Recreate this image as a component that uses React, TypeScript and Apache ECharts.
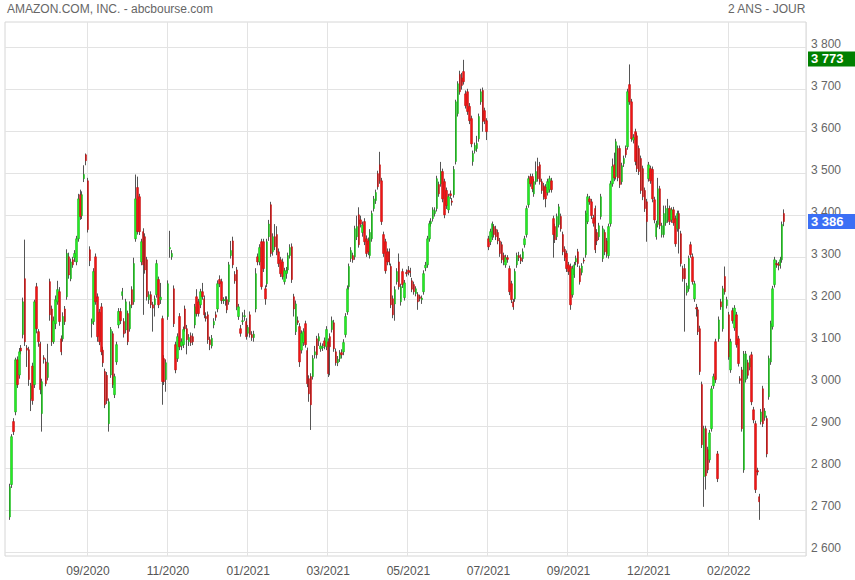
import React, { useEffect, useRef } from "react";
import * as echarts from "echarts";

// ---- data ----
const title = "AMAZON.COM, INC. - abcbourse.com";
const periodLabel = "2 ANS - JOUR";
const tickLabels = ["09/2020", "11/2020", "01/2021", "03/2021", "05/2021", "07/2021", "09/2021", "12/2021", "02/2022"];
const tickIndex = [43, 85, 127, 169, 211, 253, 295, 337, 379];
const priceTicks = [2600, 2700, 2800, 2900, 3000, 3100, 3200, 3300, 3400, 3500, 3600, 3700, 3800];
const highPrice = 3773;
const lastPrice = 3386;
const PAD_START = 2;
const CATEGORY_COUNT = 420;

// [open, close, low, high]
const candlesA = [
  [2683,2755,2676,2762],[2760,2874,2752,2880],[2910,2886,2878,2918],[2933,3057,2925,3062],[3057,2998,2990,3065],
  [3021,3076,3012,3085],[3085,3078,3070,3092],[3117,3195,3108,3205],[3250,3100,3090,3343],[3085,3080,3040,3092],
  [3081,3010,2995,3088],[2964,2995,2935,3002],[3042,2960,2950,3050],[2998,3195,2990,3200],[3231,3131,3120,3240],
  [3124,3100,3088,3130],[3095,2986,2975,3100],[2929,3005,2886,3012],[3062,3058,3048,3068],[3052,3000,2994,3060],
  [3015,3050,3008,3095],[3243,3164,3150,3250],[3178,3100,3090,3186],[3100,3150,3095,3160],[3143,3200,3130,3210],
  [3195,3224,3188,3245],[3219,3148,3138,3230],[3107,3076,3068,3115],[3107,3160,3100,3170],[3178,3148,3140,3185],
  [3207,3310,3200,3320],[3302,3259,3250,3312],[3250,3290,3244,3298],[3295,3283,3276,3302],[3300,3310,3290,3318],
  [3290,3345,3282,3352],[3345,3440,3338,3452],[3450,3398,3390,3462],[3400,3450,3392,3458],[3488,3498,3480,3520],
  [3545,3531,3520,3548],[3483,3367,3360,3490],[3319,3293,3280,3327],[3143,3148,3110,3155],[3148,3267,3140,3275],
  [3302,3195,3188,3310],[3207,3112,3100,3215],[3170,3100,3092,3178],[3183,3076,3068,3192],[3080,3050,3040,3088],
  [3029,2950,2942,3036],[3020,2960,2952,3028],[2905,2957,2886,2965],[3021,3129,3014,3135],[3119,2998,2990,3125],
  [2974,3017,2966,3024],[3052,3093,3045,3100],[3140,3172,3132,3180],[3172,3150,3142,3180],[3210,3219,3200,3228],
  [3148,3119,3110,3156],[3128,3195,3120,3202],[3167,3100,3092,3174],[3131,3188,3124,3196],[3224,3188,3180,3232],
  [3195,3286,3188,3300],
];
const candlesB = [
  [3345,3440,3338,3498],[3467,3362,3355,3493],[3445,3362,3354,3452],[3290,3338,3282,3345],[3362,3283,3164,3370],
  [3350,3271,3262,3358],[3295,3207,3198,3302],[3200,3212,3190,3220],[3212,3188,3180,3220],[3188,3180,3124,3195],
  [3188,3202,3160,3210],[3212,3286,3205,3295],[3248,3188,3180,3255],[3200,3206,3190,3240],[3155,3005,2950,3162],
  [3060,3005,2997,3068],[3010,3050,2981,3058],[3160,3238,3152,3246],[3321,3324,3300,3364],[3302,3310,3295,3318],
  [3226,3143,3135,3234],[3093,3033,3025,3100],[3060,3112,3052,3120],[3160,3088,3080,3168],[3090,3100,3080,3108],
  [3093,3129,3085,3136],[3178,3131,3124,3186],[3131,3105,3070,3140],[3100,3110,3090,3118],[3114,3098,3090,3122],
  [3112,3100,3092,3120],[3140,3183,3132,3190],[3207,3167,3160,3225],[3195,3167,3160,3202],[3188,3219,3180,3226],
  [3219,3207,3200,3240],[3202,3164,3156,3210],[3160,3155,3148,3170],[3164,3105,3095,3172],[3105,3093,3080,3112],
  [3090,3108,3084,3116],[3140,3148,3132,3156],[3164,3158,3150,3172],[3178,3238,3170,3246],[3248,3238,3230,3258],
  [3243,3198,3190,3250],[3198,3200,3190,3206],[3198,3200,3186,3208],[3200,3176,3168,3208],[3195,3283,3188,3290],
  [3305,3317,3298,3340],[3340,3283,3275,3350],[3260,3245,3238,3268],[3271,3183,3175,3278],[3160,3183,3152,3190],
  [3131,3120,3112,3140],[3148,3150,3140,3170],[3160,3162,3150,3176],[3148,3112,3105,3156],[3120,3134,3112,3140],
  [3164,3117,3110,3172],[3117,3110,3102,3125],[3110,3118,3100,3126],[3178,3262,3170,3275],[3302,3290,3282,3310],
  [3290,3324,3282,3332],[3338,3231,3224,3345],
];
const candlesC = [
  [3338,3274,3266,3345],[3226,3202,3188,3234],[3238,3338,3230,3345],[3350,3380,3340,3390],[3426,3310,3302,3433],
  [3314,3350,3305,3358],[3350,3326,3318,3380],[3355,3314,3306,3375],[3314,3286,3278,3322],[3295,3262,3254,3302],
  [3290,3255,3248,3298],[3243,3269,3236,3276],[3262,3269,3250,3278],[3271,3305,3264,3312],[3305,3324,3298,3332],
  [3326,3248,3240,3334],[3207,3178,3160,3214],[3124,3190,3116,3198],[3150,3146,3140,3160],[3136,3052,3040,3144],
  [3080,3120,3072,3127],[3098,3124,3090,3132],[3143,3093,3086,3150],[3079,3000,2992,3086],[3012,2976,2957,3020],
  [3017,2950,2890,3025],[3017,3060,3010,3068],[3069,3076,3060,3090],[3107,3069,3060,3114],[3102,3112,3090,3120],
  [3083,3090,3076,3098],[3086,3088,3078,3096],[3102,3090,3082,3110],[3088,3129,3080,3137],[3100,3024,3016,3108],
  [3112,3088,3020,3120],[3129,3150,3122,3160],[3145,3083,3076,3152],[3076,3050,3043,3084],[3050,3058,3042,3066],
  [3060,3072,3052,3080],[3074,3069,3060,3082],[3076,3098,3068,3106],[3117,3160,3110,3168],[3171,3226,3164,3234],
  [3231,3279,3224,3286],[3298,3317,3290,3325],[3305,3295,3288,3312],[3302,3369,3295,3376],[3350,3374,3342,3400],
  [3402,3331,3324,3420],[3390,3380,3372,3400],[3360,3378,3350,3386],[3386,3338,3330,3394],[3345,3310,3302,3353],
  [3340,3314,3306,3348],[3305,3360,3298,3368],[3345,3405,3338,3412],[3417,3440,3410,3447],[3436,3455,3428,3462],
  [3500,3469,3462,3507],[3521,3483,3476,3552],[3483,3386,3378,3490],[3355,3310,3302,3362],[3338,3269,3262,3345],
  [3314,3290,3282,3322],[3314,3290,3282,3322],[3279,3188,3180,3286],
];
const candlesD = [
  [3202,3164,3156,3210],[3190,3224,3150,3232],[3243,3267,3236,3275],[3290,3231,3224,3310],[3195,3231,3186,3238],
  [3267,3236,3228,3274],[3205,3240,3198,3247],[3265,3262,3255,3272],[3270,3266,3258,3280],[3268,3264,3254,3276],
  [3245,3225,3218,3252],[3236,3219,3212,3243],[3215,3226,3208,3232],[3212,3195,3176,3218],[3207,3203,3196,3212],
  [3200,3204,3190,3210],[3219,3262,3212,3270],[3276,3282,3268,3290],[3283,3345,3276,3352],[3345,3381,3338,3388],
  [3381,3386,3374,3394],[3393,3414,3386,3420],[3405,3412,3398,3420],[3417,3488,3410,3495],[3474,3452,3445,3481],
  [3476,3505,3469,3528],[3505,3440,3432,3512],[3481,3402,3394,3488],[3460,3424,3416,3467],[3414,3445,3406,3452],
  [3452,3448,3440,3460],[3435,3432,3424,3442],[3450,3510,3443,3518],[3529,3671,3522,3676],[3643,3714,3636,3720],
  [3736,3695,3688,3745],[3728,3710,3700,3740],[3743,3719,3712,3771],[3690,3662,3655,3698],[3695,3648,3640,3702],
  [3660,3626,3618,3668],[3631,3571,3563,3638],[3529,3548,3519,3555],[3555,3567,3548,3574],[3560,3572,3552,3590],
  [3583,3636,3576,3643],[3671,3695,3664,3702],[3698,3624,3600,3705],[3650,3626,3618,3657],[3626,3600,3580,3632],
  [3345,3326,3318,3352],[3338,3362,3330,3369],[3350,3381,3342,3386],[3374,3355,3348,3380],[3368,3350,3342,3376],
  [3360,3340,3332,3367],[3340,3310,3302,3347],[3331,3295,3287,3338],[3305,3290,3282,3312],[3283,3300,3276,3307],
  [3300,3296,3288,3306],[3274,3219,3211,3281],[3238,3200,3192,3245],[3195,3183,3176,3202],[3202,3267,3195,3274],
  [3283,3305,3276,3312],[3305,3300,3292,3314],[3300,3292,3285,3308],
];
const candlesE = [
  [3298,3314,3290,3322],[3331,3345,3324,3352],[3355,3417,3348,3424],[3426,3488,3419,3495],[3493,3476,3469,3500],
  [3493,3464,3456,3500],[3452,3481,3445,3488],[3481,3505,3474,3529],[3517,3488,3481,3538],[3521,3481,3474,3528],
  [3481,3460,3452,3488],[3471,3445,3438,3478],[3468,3440,3420,3475],[3455,3481,3448,3488],[3462,3488,3455,3495],
  [3483,3462,3455,3490],[3393,3355,3300,3400],[3374,3343,3335,3381],[3350,3398,3342,3405],[3379,3421,3372,3428],
  [3398,3369,3362,3405],[3355,3314,3306,3362],[3320,3300,3292,3327],[3310,3274,3266,3317],[3283,3267,3259,3290],
  [3279,3188,3176,3286],[3212,3274,3205,3281],[3260,3283,3252,3290],[3290,3298,3282,3305],[3314,3286,3278,3321],
  [3274,3243,3236,3281],[3265,3280,3258,3287],[3294,3292,3286,3300],[3307,3405,3300,3412],[3386,3445,3380,3452],
  [3440,3433,3426,3447],[3433,3400,3392,3440],[3395,3382,3374,3402],[3417,3319,3311,3424],[3360,3340,3330,3368],
  [3350,3376,3342,3383],[3398,3445,3391,3452],[3298,3369,3290,3376],[3360,3314,3306,3367],[3340,3310,3300,3347],
  [3305,3374,3298,3381],[3381,3476,3374,3483],[3476,3517,3469,3536],[3521,3490,3482,3550],[3493,3576,3486,3583],
  [3560,3490,3482,3567],[3560,3474,3466,3567],[3481,3519,3474,3526],[3524,3536,3516,3543],[3560,3545,3538,3567],
  [3564,3695,3557,3702],[3712,3671,3664,3760],[3671,3583,3576,3678],[3580,3586,3572,3594],[3600,3529,3520,3607],
  [3590,3512,3504,3597],[3560,3505,3497,3567],[3536,3460,3452,3543],[3512,3445,3437,3519],[3460,3417,3409,3467],
  [3433,3386,3338,3440],[3488,3521,3481,3528],[3512,3483,3476,3519],
];
const candlesF = [
  [3510,3440,3432,3517],[3438,3390,3382,3445],[3350,3381,3343,3388],[3379,3464,3372,3490],[3464,3376,3368,3471],
  [3355,3376,3348,3383],[3355,3405,3348,3424],[3383,3417,3376,3424],[3390,3417,3383,3440],[3417,3386,3378,3424],
  [3390,3414,3383,3420],[3414,3383,3376,3421],[3393,3333,3326,3400],[3369,3405,3362,3412],[3405,3369,3310,3412],
  [3357,3286,3279,3364],[3274,3250,3243,3281],[3274,3250,3124,3285],[3217,3233,3210,3240],[3226,3298,3219,3305],
  [3331,3307,3300,3338],[3302,3243,3236,3310],[3202,3238,3195,3245],[3181,3178,3160,3190],[3176,3124,3116,3183],
  [3131,3029,3021,3138],[2998,2855,2847,3005],[2779,2893,2707,2900],[2893,2781,2748,2900],[2843,2795,2787,2850],
  [2819,2883,2812,2890],[2893,2988,2886,2995],[2995,3017,2988,3024],[3100,3010,3002,3107],[2833,2774,2766,2840],
  [3107,3152,3100,3160],[3195,3183,3176,3202],[3131,3226,3124,3233],[3255,3219,3212,3279],[3186,3200,3179,3207],
  [3164,3064,3057,3171],[3033,3100,3026,3107],[3174,3150,3143,3181],[3133,3180,3126,3187],[3164,3093,3086,3171],
  [3107,3048,3041,3114],[3012,3008,3000,3018],[3033,2893,2886,3040],[2795,3071,2788,3078],[3010,3071,3003,3078],
  [3050,3020,3012,3057],[3040,3060,3032,3067],[3069,2957,2949,3076],[2938,2914,2906,2945],[2905,2748,2740,2912],
  [2793,2790,2782,2800],[2731,2719,2676,2738],[2910,2933,2903,2940],[2988,2905,2897,2995],[2920,2935,2912,2942],
  [2917,2833,2825,2924],[2969,3060,2962,3067],[3052,3143,3045,3150],[3136,3226,3129,3233],[3236,3295,3229,3302],
  [3286,3284,3276,3294],[3285,3282,3270,3290],[3281,3295,3274,3302],[3295,3379,3288,3386],[3405,3386,3375,3415],
];

const FONT = "'Liberation Sans', Arial, Helvetica, sans-serif";

function fmt(v: number): string {
  const s = String(Math.round(v));
  return s.length > 3 ? s.slice(0, s.length - 3) + " " + s.slice(s.length - 3) : s;
}

export default function App() {
  const ref = useRef<HTMLDivElement>(null);

  useEffect(() => {
    document.body.style.margin = "0";
    if (!ref.current) return;
    const chart = echarts.init(ref.current, undefined, { renderer: "svg" });

    const candles = [...candlesA, ...candlesB, ...candlesC, ...candlesD, ...candlesE, ...candlesF];
    const categories: string[] = [];
    for (let i = 0; i < CATEGORY_COUNT; i++) categories.push("");
    tickIndex.forEach((idx, k) => (categories[idx] = tickLabels[k]));
    const tickSet = new Set(tickIndex);

    const wickData: any[] = [];
    const bodyData: any[] = [];
    for (let i = 0; i < CATEGORY_COUNT; i++) {
      const c = candles[i - PAD_START];
      if (i < PAD_START || !c) {
        wickData.push("-");
        bodyData.push("-");
      } else {
        wickData.push(c);
        bodyData.push([c[0], c[1], Math.min(c[0], c[1]), Math.max(c[0], c[1])]);
      }
    }

    const gridLines = priceTicks.map((v) => ({
      yAxis: v,
      lineStyle: { color: "#e3e3e3", width: 1, type: "solid" },
      label: {
        show: true,
        position: "end",
        distance: 5,
        formatter: fmt(v),
        color: "#666",
        fontSize: 12,
        fontFamily: FONT,
        verticalAlign: "bottom",
        lineHeight: 7,
      },
    }));
    const badge = (v: number, bg: string) => ({
      yAxis: v,
      lineStyle: { color: "rgba(0,0,0,0)", width: 1, type: "solid" },
      label: {
        show: true,
        position: "end",
        distance: 2,
        formatter: fmt(v),
        color: "#ffffff",
        fontWeight: "bold",
        fontSize: 13,
        fontFamily: FONT,
        backgroundColor: bg,
        padding: [1, 12, 1, 3],
        lineHeight: 13,
        verticalAlign: "middle",
      },
    });

    chart.setOption({
      animation: false,
      grid: {
        left: 5,
        right: 49,
        top: 22,
        bottom: 24,
        show: true,
        borderColor: "#d6d6d6",
        borderWidth: 1,
        backgroundColor: "transparent",
      },
      graphic: [
        {
          type: "text",
          left: 7,
          top: 3,
          style: { text: title, fill: "#666", fontSize: 12, fontFamily: FONT },
        },
        {
          type: "text",
          right: 49,
          top: 3,
          style: { text: periodLabel, fill: "#666", fontSize: 12, fontFamily: FONT },
        },
      ],
      xAxis: {
        type: "category",
        data: categories,
        boundaryGap: true,
        axisLine: { show: false },
        axisTick: { show: false },
        axisLabel: {
          interval: (i: number) => tickSet.has(i),
          color: "#555",
          fontSize: 12,
          fontFamily: FONT,
          margin: 9,
        },
        splitLine: {
          show: true,
          interval: (i: number) => tickSet.has(i),
          lineStyle: { color: "#e3e3e3", width: 1 },
        },
      },
      yAxis: {
        type: "value",
        position: "right",
        min: 2590,
        max: 3861,
        axisLine: { show: false },
        axisTick: { show: false },
        axisLabel: { show: false },
        splitLine: { show: false },
      },
      series: [
        {
          type: "candlestick",
          name: "wick",
          data: wickData,
          barWidth: "30%",
          z: 3,
          itemStyle: { color: "#555", color0: "#555", borderColor: "#555", borderColor0: "#555", borderWidth: 1 },
          markLine: {
            silent: true,
            symbol: "none",
            z: 1,
            animation: false,
            data: [...gridLines, badge(highPrice, "#008000"), badge(lastPrice, "#3b6ff5")],
          },
        },
        {
          type: "candlestick",
          name: "body",
          data: bodyData,
          barWidth: "100%",
          z: 4,
          itemStyle: {
            color: "#22ee22",
            color0: "#f21414",
            borderColor: "#14a814",
            borderColor0: "#b80c0c",
            borderWidth: 0.5,
          },
        },
      ],
    });

    return () => chart.dispose();
  }, []);

  return <div ref={ref} style={{ width: 855, height: 580 }} />;
}
